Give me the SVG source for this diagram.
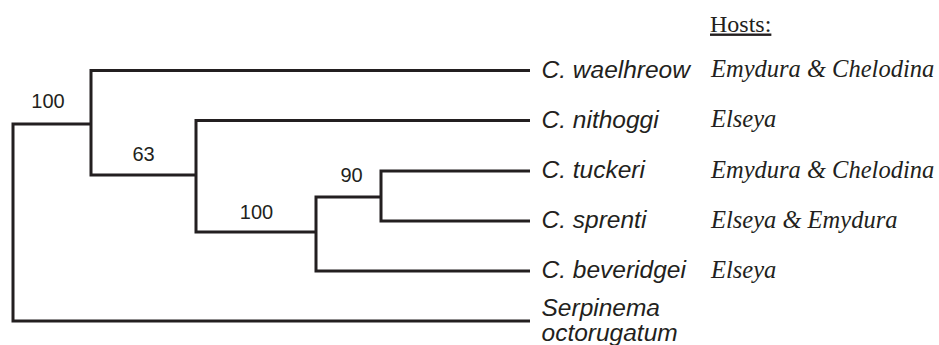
<svg xmlns="http://www.w3.org/2000/svg" width="939" height="345" viewBox="0 0 939 345">
<style>
.br{fill:none;stroke:#231f20;stroke-width:3;stroke-linejoin:miter;stroke-linecap:butt}
.bs{font-family:"Liberation Sans",Arial,sans-serif;font-size:20px;fill:#231f20;text-anchor:middle}
.sp{font-family:"Liberation Sans",Arial,sans-serif;font-size:24.5px;font-style:italic;fill:#231f20}
.ho{font-family:"Liberation Serif","Times New Roman",serif;font-size:24.5px;font-style:italic;fill:#231f20}
.hd{font-family:"Liberation Serif","Times New Roman",serif;font-size:24px;fill:#231f20;text-decoration:underline}
</style>
<rect width="939" height="345" fill="#ffffff"/>
<g id="connectors">
<path class="br" d="M530,321 H13 V124 H91"/>
<path class="br" d="M530,70.5 H91 V175 H196"/>
<path class="br" d="M530,120.5 H196 V232 H316"/>
<path class="br" d="M530,271 H316 V197 H381"/>
<path class="br" d="M530,171 H381 V221 H530"/>
</g>
<g id="support">
<text class="bs" x="48" y="108">100</text>
<text class="bs" x="143.5" y="161">63</text>
<text class="bs" x="351.5" y="181.5">90</text>
<text class="bs" x="256.5" y="219">100</text>
</g>
<g id="hosts-header"><text class="hd" x="710" y="31.5">Hosts:</text></g>
<g id="waelhreow"><text class="sp" x="541.5" y="77.5">C. waelhreow</text><text class="ho" x="711" y="77">Emydura &amp; Chelodina</text></g>
<g id="nithoggi"><text class="sp" x="541.5" y="127.5">C. nithoggi</text><text class="ho" x="711" y="127">Elseya</text></g>
<g id="tuckeri"><text class="sp" x="541.5" y="178">C. tuckeri</text><text class="ho" x="711" y="177.5">Emydura &amp; Chelodina</text></g>
<g id="sprenti"><text class="sp" x="541.5" y="228">C. sprenti</text><text class="ho" x="711" y="227.5">Elseya &amp; Emydura</text></g>
<g id="beveridgei"><text class="sp" x="541.5" y="278">C. beveridgei</text><text class="ho" x="711" y="277.5">Elseya</text></g>
<g id="serpinema"><text class="sp" x="541.5" y="316">Serpinema</text><text class="sp" x="541.5" y="340.5">octorugatum</text></g>
</svg>
